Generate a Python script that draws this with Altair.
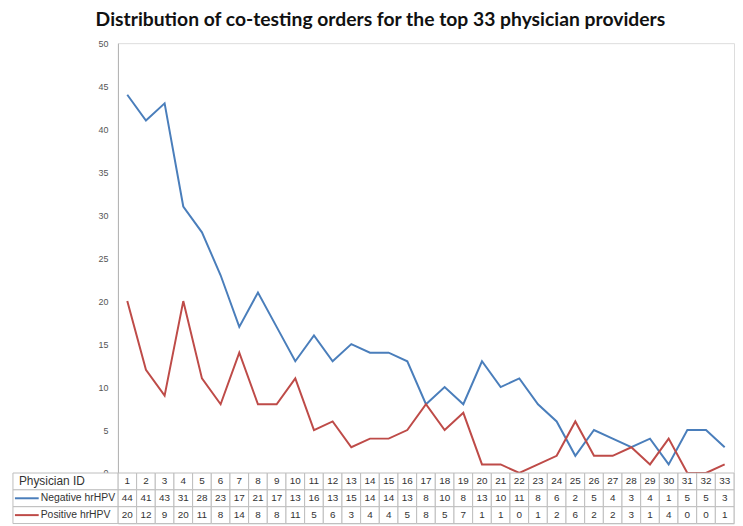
import altair as alt
import pandas as pd

ids = list(range(1, 34))
negative = [44, 41, 43, 31, 28, 23, 17, 21, 17, 13, 16, 13, 15, 14, 14, 13, 8, 10, 8, 13, 10, 11, 8, 6, 2, 5, 4, 3, 4, 1, 5, 5, 3]
positive = [20, 12, 9, 20, 11, 8, 14, 8, 8, 11, 5, 6, 3, 4, 4, 5, 8, 5, 7, 1, 1, 0, 1, 2, 6, 2, 2, 3, 1, 4, 0, 0, 1]
series_names = ["Negative  hrHPV", "Positive hrHPV"]
header_name = "Physician ID"
row_names = [header_name] + series_names
colors = ["#4a7ebb", "#be4b48"]

W = 622
H = 434
ROW_H = 17
LABEL_W = 106

long = pd.DataFrame({
    "id": ids * 2,
    "series": [series_names[0]] * 33 + [series_names[1]] * 33,
    "value": negative + positive,
})

table = pd.DataFrame({
    "id": ids * 3,
    "row": [row_names[0]] * 33 + [row_names[1]] * 33 + [row_names[2]] * 33,
    "text": [str(i) for i in ids] + [str(v) for v in negative] + [str(v) for v in positive],
})
labels = pd.DataFrame({"row": row_names})
header = pd.DataFrame({"row": [header_name]})
swatches = pd.DataFrame({"row": series_names})

color_scale = alt.Scale(domain=series_names, range=colors)

lines = alt.Chart(long).mark_line(strokeWidth=2).encode(
    x=alt.X("id:O", scale=alt.Scale(type="point", padding=0.5), axis=None),
    y=alt.Y("value:Q", scale=alt.Scale(domain=[0, 50], nice=False),
            axis=alt.Axis(values=list(range(0, 51, 5)), grid=False, ticks=False,
                          domainColor="#b0b0b0", labelColor="#555555",
                          labelFontSize=9, labelFont="Liberation Sans",
                          labelPadding=10, title=None)),
    color=alt.Color("series:N", scale=color_scale, legend=None),
).properties(width=W, height=H)

yrow = alt.Y("row:N", sort=row_names, axis=None,
             scale=alt.Scale(paddingInner=0, paddingOuter=0))
xband = alt.X("id:O", axis=None, scale=alt.Scale(type="band", paddingInner=0, paddingOuter=0))

cells = alt.Chart(table).mark_rect(fill="white", stroke="#bdbdbd", strokeWidth=1).encode(
    x=xband, y=yrow)
cell_text = alt.Chart(table).mark_text(fontSize=10, font="Liberation Sans", color="#333333").encode(
    x=xband, y=yrow, text="text:N")
label_box = alt.Chart(labels).mark_rect(fill="white", stroke="#bdbdbd", strokeWidth=1).encode(
    x=alt.value(-LABEL_W), x2=alt.value(0), y=yrow)
header_text = alt.Chart(header).mark_text(align="left", fontSize=12, font="Liberation Sans",
                                           color="#333333").encode(
    x=alt.value(-100), y=yrow, text="row:N")
label_text = alt.Chart(swatches).mark_text(align="left", fontSize=10.5, font="Liberation Sans",
                                            color="#333333").encode(
    x=alt.value(-78), y=yrow, text="row:N")
swatch = alt.Chart(swatches).mark_rule(strokeWidth=2).encode(
    x=alt.value(-104), x2=alt.value(-80), y=yrow,
    color=alt.Color("row:N", scale=color_scale, legend=None))

tbl = alt.layer(cells, cell_text, label_box, header_text, label_text, swatch).properties(
    width=W, height=3 * ROW_H)

chart = alt.vconcat(lines, tbl, spacing=0, bounds="flush").properties(
    title=alt.TitleParams("Distribution of co-testing orders for the top 33 physician providers",
                          font="Lato", fontSize=19.5, fontWeight="bold", color="#111111",
                          anchor="middle", frame="group", dx=-46, offset=8),
    padding={"left": 4, "top": 0, "right": 0, "bottom": 0},
).configure_view(stroke="#b0b0b0").configure(background="white")

chart.save("out.html", embed_options={"renderer": "svg", "actions": False})
